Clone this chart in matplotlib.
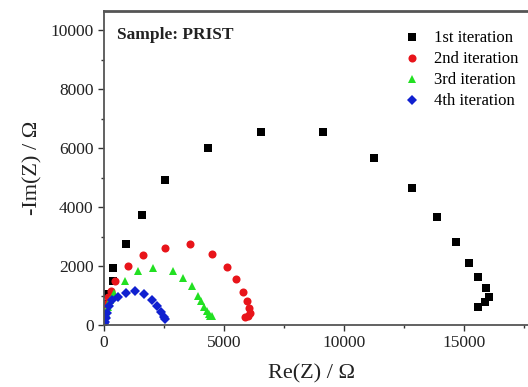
import matplotlib
matplotlib.use("Agg")
import matplotlib.pyplot as plt
from matplotlib.ticker import MultipleLocator

plt.rcParams['font.family'] = ['Liberation Serif', 'DejaVu Serif']

# Nyquist data, ohm
re_1 = [40, 137, 390, 360, 900, 1590, 2550, 4335, 6550, 9110, 11220, 12810,
        13860, 14670, 15210, 15550, 15910, 16010, 15860, 15570]
im_1 = [700, 1050, 1490, 1940, 2760, 3730, 4915, 6010, 6540, 6540, 5680, 4640,
        3650, 2800, 2090, 1615, 1250, 960, 790, 620]

re_2 = [20, 60, 150, 280, 460, 1010, 1635, 2550, 3565, 4515, 5110, 5510,
        5790, 5955, 6025, 6060, 5990, 5860]
im_2 = [400, 700, 950, 1150, 1490, 1985, 2385, 2600, 2735, 2420, 1980, 1560,
        1120, 815, 565, 400, 300, 280]

re_3 = [20, 80, 150, 250, 420, 860, 1425, 2020, 2860, 3275, 3670, 3900,
        4040, 4170, 4295, 4380, 4515, 4420]
im_3 = [200, 400, 620, 850, 1090, 1480, 1830, 1920, 1835, 1600, 1325, 990,
        800, 620, 485, 375, 315, 300]

re_4 = [10, 20, 40, 85, 140, 220, 345, 580, 910, 1300, 1680, 1980, 2210,
        2370, 2480, 2540]
im_4 = [20, 60, 110, 225, 395, 640, 850, 945, 1095, 1145, 1065, 835, 630,
        440, 280, 200]

series = [
    (re_1, im_1, 's', 'black', '1st iteration'),
    (re_2, im_2, 'o', '#e8141a', '2nd iteration'),
    (re_3, im_3, '^', '#22e022', '3rd iteration'),
    (re_4, im_4, 'D', '#1020d0', '4th iteration'),
]

fig = plt.figure(figsize=(5.28, 3.87), dpi=100)
ax = fig.add_axes([104 / 528, 62 / 387, 1 - 104 / 528, 314 / 387])

for x, y, m, c, lab in series:
    ms = 5.0 if m == 'D' else 5.8
    ax.plot(x, y, linestyle='none', marker=m, color=c, markersize=ms,
            markeredgewidth=0, label=lab)

ax.set_xlim(0, 17650)
ax.set_ylim(0, 10650)
ax.xaxis.set_major_locator(MultipleLocator(5000))
ax.xaxis.set_minor_locator(MultipleLocator(2500))
ax.yaxis.set_major_locator(MultipleLocator(2000))
ax.yaxis.set_minor_locator(MultipleLocator(1000))
ax.tick_params(which='major', direction='out', length=4, width=1,
               labelsize=12.5, colors='#333333', labelcolor='#222222')
ax.tick_params(which='minor', direction='out', length=2.5, width=1,
               colors='#333333')

for side in ['left', 'bottom', 'top']:
    ax.spines[side].set_color('#555555')
    ax.spines[side].set_linewidth(1.3)
ax.spines['top'].set_linewidth(2)
ax.spines['right'].set_visible(False)

ax.set_xlabel('Re(Z) / Ω', fontsize=16, color='#222222')
ax.set_ylabel('-Im(Z) / Ω', fontsize=16, color='#222222')
ax.xaxis.set_label_coords(0.49, -0.125)
ax.yaxis.set_label_coords(-0.145, 0.5)

ax.text(0.03, 0.95, 'Sample: PRIST', transform=ax.transAxes, fontsize=12.5,
        fontweight='bold', va='top', ha='left', color='#222222')

ax.legend(loc='upper right', bbox_to_anchor=(1.0, 0.97), frameon=False,
          fontsize=12, handletextpad=0.7, labelspacing=0.3,
          handlelength=1.2, borderaxespad=0.2)

fig.savefig('out.png', dpi=100)
